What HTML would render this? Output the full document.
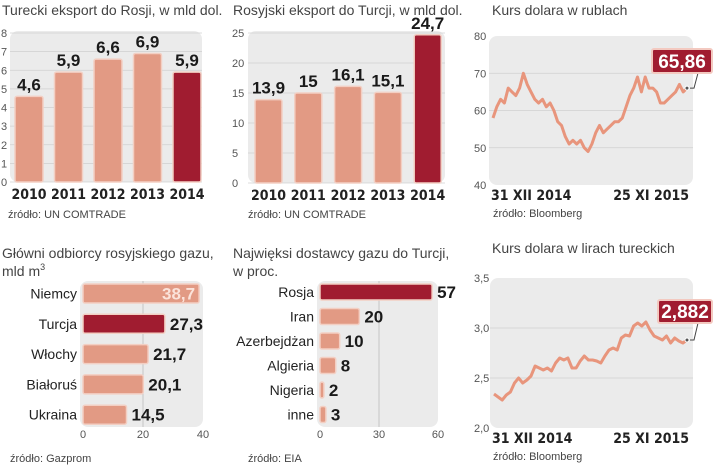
<!DOCTYPE html>
<html><head><meta charset="utf-8"><style>
html,body{margin:0;padding:0;background:#fff;}
svg{display:block;font-family:"Liberation Sans Narrow","Liberation Sans",sans-serif;}
.t{font-size:14px;fill:#444;}
.ax{font-size:11px;fill:#555;}
.src{font-size:11px;fill:#444;}
.yr{font-size:14px;font-weight:bold;fill:#222;font-family:"DejaVu Sans Condensed","Liberation Sans",sans-serif;}
.v{font-size:17px;font-weight:bold;fill:#1a1a1a;}
.cat{font-size:14px;fill:#222;}
</style></head><body>
<svg id="c" width="720" height="467" viewBox="0 0 720 467">
<text class="t" x="2" y="15">Turecki eksport do Rosji, w mld dol.</text>
<text class="t" x="233" y="15">Rosyjski eksport do Turcji, w mld dol.</text>
<text class="t" x="492" y="15">Kurs dolara w rublach</text>
<text class="t" x="2" y="258">Główni odbiorcy rosyjskiego gazu,</text>
<text class="t" x="2" y="276">mld m<tspan font-size="9" dy="-6">3</tspan></text>
<text class="t" x="233" y="258">Najwięksi dostawcy gazu do Turcji,</text>
<text class="t" x="233" y="276">w proc.</text>
<text class="t" x="492" y="253">Kurs dolara w lirach tureckich</text>
<text class="src" x="8" y="218">źródło: UN COMTRADE</text>
<text class="src" x="248" y="218">źródło: UN COMTRADE</text>
<text class="src" x="493" y="217">źródło: Bloomberg</text>
<text class="src" x="10" y="462">źródło: Gazprom</text>
<text class="src" x="248" y="462">źródło: EIA</text>
<text class="src" x="493" y="460">źródło: Bloomberg</text>
</svg>
<script>
const years=["2010","2011","2012","2013","2014"];
const turExport=[4.6,5.9,6.6,6.9,5.9];
const turLabels=["4,6","5,9","6,6","6,9","5,9"];
const turTicks=[0,1,2,3,4,5,6,7,8];
const rusExport=[13.9,15,16.1,15.1,24.7];
const rusLabels=["13,9","15","16,1","15,1","24,7"];
const rusTicks=[0,5,10,15,20,25];
const rubleTicks=[40,50,60,70,80];
const rubleValues=[58,61,63,62,66,65,64,66,70,67,65,63,62,63,61,62,60,57,56,53,51,52,51,52,50,49,51,54,56,54,55,56,57,57,58,61,64,66,69,65,69,66,66,65,62,62,63,64,65,67,65,66];
const liraTicks=[2.0,2.5,3.0,3.5];
const liraValues=[2.34,2.31,2.28,2.33,2.36,2.45,2.5,2.45,2.48,2.52,2.62,2.6,2.58,2.6,2.57,2.65,2.7,2.68,2.7,2.6,2.6,2.67,2.72,2.68,2.68,2.67,2.65,2.72,2.78,2.8,2.78,2.9,2.93,2.92,3.02,3.05,3.02,3.06,2.98,2.92,2.9,2.88,2.92,2.85,2.9,2.87,2.85,2.88];
const gasCountries=["Niemcy","Turcja","Włochy","Białoruś","Ukraina"];
const gasValues=[38.7,27.3,21.7,20.1,14.5];
const gasLabels=["38,7","27,3","21,7","20,1","14,5"];
const gasTicks=[0,20,40];
const supCountries=["Rosja","Iran","Azerbejdżan","Algieria","Nigeria","inne"];
const supValues=[57,20,10,8,2,3];
const supTicks=[0,30,60];

const svg=document.getElementById('c');
const NS="http://www.w3.org/2000/svg";
function mk(tag,attrs,parent){const e=document.createElementNS(NS,tag);for(const k in attrs)e.setAttribute(k,attrs[k]);(parent||svg).appendChild(e);return e;}
const LIGHT="#e29a84",DARK="#a01c30",EDGE="#f3cfc3",BG="#ebebeb",GRID="#d0d0d0";

function vbar(cfg){
  const y=v=>cfg.y0-(v-cfg.min)/(cfg.max-cfg.min)*(cfg.y0-cfg.y1);
  const bg=mk('rect',{x:cfg.bgx,y:cfg.y1-2,width:cfg.bgw,height:cfg.y0-cfg.y1+2,rx:8,fill:BG});
  
  
  cfg.ticks.forEach(t=>{
    const l=mk('line',{x1:cfg.bgx,x2:cfg.bgx+cfg.bgw,y1:y(t),y2:y(t),stroke:GRID,'stroke-width':0.8});
    
    
    const tx=mk('text',{x:cfg.tickx,y:y(t)+4,class:'ax'});tx.textContent=t;
    
    
  });
  cfg.vals.forEach((v,i)=>{
    const x=cfg.bx0+i*cfg.step;
    const r=mk('rect',{x:x,y:y(v),width:cfg.bw,height:cfg.y0-y(v),rx:2,fill:i===cfg.vals.length-1?DARK:LIGHT,stroke:EDGE,'stroke-width':1.5});
    
    
    const tv=mk('text',{x:x+cfg.bw/2,y:y(v)-6,class:'v','text-anchor':'middle'});tv.textContent=cfg.labels[i];
    
    
    const ty=mk('text',{x:x+cfg.bw/2,y:cfg.y0+17,class:'yr','text-anchor':'middle'});ty.textContent=years[i];
    
    
  });
}
vbar({name:'turkish-export',vals:turExport,labels:turLabels,ticks:turTicks,min:0,max:8,y0:182,y1:33,bgx:10,bgw:192,tickx:1,bx0:15,step:39.5,bw:28});
vbar({name:'russian-export',vals:rusExport,labels:rusLabels,ticks:rusTicks,min:0,max:25,y0:183,y1:33,bgx:248,bgw:197,tickx:232,bx0:255,step:39.8,bw:27});

function line(cfg){
  const y=v=>cfg.y0-(v-cfg.min)/(cfg.max-cfg.min)*(cfg.y0-cfg.y1);
  const x=i=>cfg.x0+i/(cfg.vals.length-1)*(cfg.x1-cfg.x0);
  const bg=mk('rect',{x:cfg.x0-4,y:cfg.y1,width:cfg.x1-cfg.x0+10,height:cfg.y0-cfg.y1,rx:8,fill:BG});
  
  
  cfg.ticks.forEach(t=>{
    if(t!==cfg.min&&t!==cfg.max){const l=mk('line',{x1:cfg.x0-4,x2:cfg.x1+6,y1:y(t),y2:y(t),stroke:GRID,'stroke-width':0.8});
    
    }
    const tx=mk('text',{x:cfg.tickx,y:y(t)+4,class:'ax'});tx.textContent=cfg.fmt(t);
    
    
  });
  const d=cfg.vals.map((v,i)=>(i?'L':'M')+x(i).toFixed(1)+','+y(v).toFixed(1)).join('');
  const p=mk('path',{d:d,fill:'none',stroke:'#e8957c','stroke-width':3,'stroke-linejoin':'round'});
  
  
  const n=cfg.vals.length-1,lx=x(n),ly=y(cfg.vals[n]);
  const c=mk('circle',{cx:lx,cy:ly,r:2,fill:'#555',stroke:'#fff','stroke-width':1});
  
  
  mk('polyline',{points:`${lx+3},${ly} ${cfg.bx+cfg.bw-18},${ly} ${cfg.bx+cfg.bw-14},${cfg.by+cfg.bh}`,fill:'none',stroke:'#444','stroke-width':1});
  const b=mk('rect',{x:cfg.bx,y:cfg.by,width:cfg.bw,height:cfg.bh,rx:2,fill:DARK,stroke:'#f3c9c0','stroke-width':2});
  
  
  const bt=mk('text',{x:cfg.bx+cfg.bw/2,y:cfg.by+cfg.bh-5,class:'v','text-anchor':'middle',fill:'#fff',style:'fill:#fff;font-size:19px'});bt.textContent=cfg.label;
  
  
  [['31 XII 2014',cfg.x0-2,'start'],['25 XI 2015',cfg.x1+2,'end']].forEach(a=>{
    const t=mk('text',{x:a[1],y:cfg.y0+15,class:'yr','text-anchor':a[2]});t.textContent=a[0];
    
    
  });
}
line({name:'ruble',vals:rubleValues,ticks:rubleTicks,min:40,max:80,y0:185,y1:36,x0:493,x1:687,tickx:474,fmt:t=>t,bx:652,by:49,bw:60,bh:24,label:'65,86'});
line({name:'lira',vals:liraValues,ticks:liraTicks,min:2.0,max:3.5,y0:428,y1:278,x0:494,x1:687,tickx:474,fmt:t=>t.toFixed(1).replace('.',','),bx:658,by:300,bw:54,bh:23,label:'2,882'});

function hbar(cfg){
  const x=v=>cfg.x0+v/cfg.max*(cfg.x1-cfg.x0);
  const bg=mk('rect',{x:cfg.x0-3,y:cfg.ytop,width:cfg.x1-cfg.x0+3,height:cfg.ybot-cfg.ytop,rx:8,fill:BG});
  
  
  cfg.ticks.forEach(t=>{
    if(t!==0&&t!==cfg.max){const l=mk('line',{x1:x(t),x2:x(t),y1:cfg.ytop,y2:cfg.ybot,stroke:'#bbb','stroke-width':0.8});
    
    }
    const tx=mk('text',{x:x(t),y:cfg.ybot+11,class:'ax','text-anchor':'middle'});tx.textContent=t;
    
    
  });
  cfg.vals.forEach((v,i)=>{
    const yy=cfg.y0+i*cfg.step;
    const r=mk('rect',{x:cfg.x0,y:yy,width:Math.max(x(v)-cfg.x0,3),height:cfg.bh,rx:2,fill:i===cfg.dark?DARK:LIGHT,stroke:EDGE,'stroke-width':1.5});
    
    
    const c=mk('text',{x:cfg.x0-6,y:yy+cfg.bh/2+5,class:'cat','text-anchor':'end'});c.textContent=cfg.cats[i];
    
    
    const inside=cfg.inside===i;
    const tv=mk('text',{x:inside?x(v)-4:x(v)+5,y:yy+cfg.bh/2+6,class:'v','text-anchor':inside?'end':'start',style:inside?'fill:#fbe3da':''});
    tv.textContent=cfg.labels[i];
    
    
  });
}
hbar({name:'gas-recipients',cats:gasCountries,vals:gasValues,labels:gasLabels,ticks:gasTicks,max:40,x0:83,x1:203,ytop:281,ybot:427,y0:284,step:30.3,bh:19,dark:1,inside:0});
hbar({name:'gas-suppliers',cats:supCountries,vals:supValues,labels:supValues.map(String),ticks:supTicks,max:60,x0:320,x1:438,ytop:281,ybot:427,y0:284,step:24.5,bh:16,dark:0,inside:-1});
</script>
</body></html>
